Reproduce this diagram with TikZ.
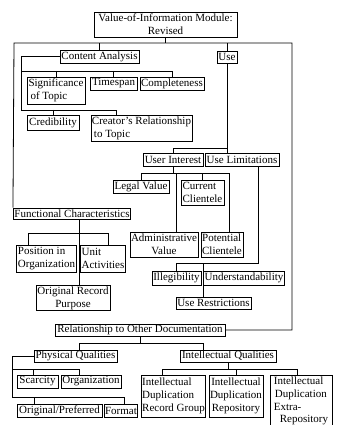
\documentclass[tikz,border=0pt]{standalone}
\usepackage{fontspec}
\setmainfont{Liberation Serif}
\begin{document}
\begin{tikzpicture}[x=1pt,y=-1pt,
  box/.style={draw, line width=0.9pt, inner sep=1pt, anchor=center,
    font=\fontsize{11}{12.8}\selectfont},
  conn/.style={line width=0.8pt}]
\useasboundingbox (0,0) rectangle (339,425);
% nodes
\node[box, minimum width=143, minimum height=25, align=center] (top) at (165.5,24.5) {Value-of-Information Module:\\Revised};
\node[box, minimum width=79, minimum height=13] (CA) at (99.5,56.5) {Content Analysis};
\node[box, minimum width=20, minimum height=12] (Use) at (227,57) {Use};
\node[box, minimum width=58, minimum height=27, align=left] (Sig) at (56,90.5) {Significance\\\hspace*{2pt}of Topic};
\node[box, minimum width=47, minimum height=13] (Time) at (113.5,83.5) {Timespan};
\node[box, minimum width=64, minimum height=13] (Comp) at (172,83.5) {Completeness};
\node[box, minimum width=52, minimum height=15] (Cred) at (53,122.5) {Credibility};
\node[box, minimum width=101, minimum height=26, align=left] (Creator) at (141.5,128) {Creator's Relationship\\\hspace*{2pt}to Topic};
\node[box, minimum width=60, minimum height=13] (UI) at (173,159.5) {User Interest};
\node[box, minimum width=74, minimum height=13] (UL) at (242,159.5) {Use Limitations};
\node[box, minimum width=56, minimum height=13] (Legal) at (141,186.5) {Legal Value};
\node[box, minimum width=43, minimum height=25, align=left] (CurC) at (202.5,192.5) {Current\\Clientele};
\node[box, minimum width=116, minimum height=11] (FC) at (72,213.5) {Functional Characteristics};
\node[box, minimum width=68, minimum height=25, align=center] (Admin) at (164,244.5) {Administrative\\Value};
\node[box, minimum width=42, minimum height=25, align=left] (PotC) at (222,244.5) {Potential\\Clientele};
\node[box, minimum width=59, minimum height=27, align=left] (Pos) at (46.5,258.5) {Position in\\Organization};
\node[box, minimum width=44, minimum height=27, align=left] (Unit) at (103,258.5) {Unit\\Activities};
\node[box, minimum width=49, minimum height=14] (Illeg) at (176.5,278) {Illegibility};
\node[box, minimum width=80, minimum height=14] (Under) at (244,278) {Understandability};
\node[box, minimum width=74, minimum height=24, align=center] (ORP) at (73,298) {Original Record\\Purpose};
\node[box, minimum width=75, minimum height=12] (UR) at (213.5,303) {Use Restrictions};
\node[box, minimum width=170, minimum height=10] (Rel) at (140,330) {Relationship to Other Documentation};
\node[box, minimum width=83, minimum height=12] (PQ) at (75.5,356) {Physical Qualities};
\node[box, minimum width=96, minimum height=12] (IQ) at (228,356) {Intellectual Qualities};
\node[box, minimum width=41, minimum height=13] (Scar) at (37.5,381.5) {Scarcity};
\node[box, minimum width=60, minimum height=13] (Org) at (91,381.5) {Organization};
\node[box, minimum width=85, minimum height=13] (OP) at (59.5,410.5) {Original/Preferred};
\node[box, minimum width=32, minimum height=13] (Fmt) at (121,410.5) {Format};
\node[box, minimum width=63, minimum height=42, align=left] (IDRG) at (173.5,396) {Intellectual\\Duplication\\Record Group};
\node[box, minimum width=54, minimum height=42, align=center] (IDR) at (236,396) {Intellectual\\Duplication\\Repository};
\node[box, minimum width=62, minimum height=52, align=left] (IDER) at (301,401) {Intellectual\\\hspace*{1pt}Duplication\\Extra-\\\hspace*{6pt}Repository};
% coordinates
\coordinate (bL) at (14,43);
\coordinate (bR) at (292,43);
\coordinate (u1) at (0,148);
\coordinate (c1) at (21,110);
\coordinate (c2) at (116,110);
\coordinate (c3) at (21,71);
\coordinate (d1) at (0,173);
\coordinate (d2) at (229,173);
\coordinate (d3) at (176,173);
\coordinate (e1) at (258,263);
\coordinate (e2) at (203,263);
\coordinate (f1) at (79,233);
\coordinate (f2) at (28,233);
\coordinate (f3) at (108,233);
\coordinate (g1) at (0,343);
\coordinate (g2) at (79,343);
\coordinate (g3) at (203,343);
\coordinate (h1) at (12,397);
\coordinate (h2) at (12,369);
\coordinate (h3) at (79,369);
\coordinate (h4) at (33,369);
\coordinate (h5) at (124,397);
\coordinate (h6) at (34,397);
\coordinate (k1) at (0,369);
\coordinate (k2) at (162,369);
\coordinate (k3) at (297,369);
% connectors
\draw[conn] (FC.north west) -- (bL) -- (bR) |- (Rel.east);
\draw[conn] (top.south) -- (top.south |- bL);
\draw[conn] (CA.north) -- (CA.north |- bL);
\draw[conn] (Use.north) -- (Use.north |- bL);
\draw[conn] (Use.south) -- (Use.south |- UL.north);
\draw[conn] (Use.south |- u1) -| (UI.north);
\draw[conn] (CA.west) -| (c1) -- (c2) -- (c2 |- Creator.north);
\draw[conn] (Cred.north |- c1) -- (Cred.north);
\draw[conn] (c3) -| (Comp.north);
\draw[conn] (Sig.north |- c3) -- (Sig.north);
\draw[conn] (Time.north |- c3) -- (Time.north);
\draw[conn] (UI.south) -- (UI.south |- d1);
\draw[conn] (Legal.north) |- (d2) -- (d2 |- PotC.north);
\draw[conn] (d3) -- (d3 |- Admin.north);
\draw[conn] (CurC.north |- d1) -- (CurC.north);
\draw[conn] (e1 |- UL.south) -- (e1) -| (Illeg.north);
\draw[conn] (e2) -- (e2 |- UR.north);
\draw[conn] (f1 |- FC.south) -- (f1 |- ORP.north);
\draw[conn] (f2 |- Pos.north) -- (f2) -- (f3) -- (f3 |- Unit.north);
\draw[conn] (Rel.south) -- (Rel.south |- g1);
\draw[conn] (g2 |- PQ.north) -- (g2) -- (g3) -- (g3 |- IQ.north);
\draw[conn] (PQ.west) -| (h1) -- (h5) -- (h5 |- Fmt.north);
\draw[conn] (h2) -- (h3) -- (h3 |- Org.north);
\draw[conn] (h4) -- (h4 |- Scar.north);
\draw[conn] (h6) -- (h6 |- OP.north);
\draw[conn] (IQ.south) -- (IQ.south |- k1);
\draw[conn] (k2 |- IDRG.north) -- (k2) -- (k3) -- (k3 |- IDER.north);
\draw[conn] (IDR.north |- k1) -- (IDR.north);
\end{tikzpicture}
\end{document}
